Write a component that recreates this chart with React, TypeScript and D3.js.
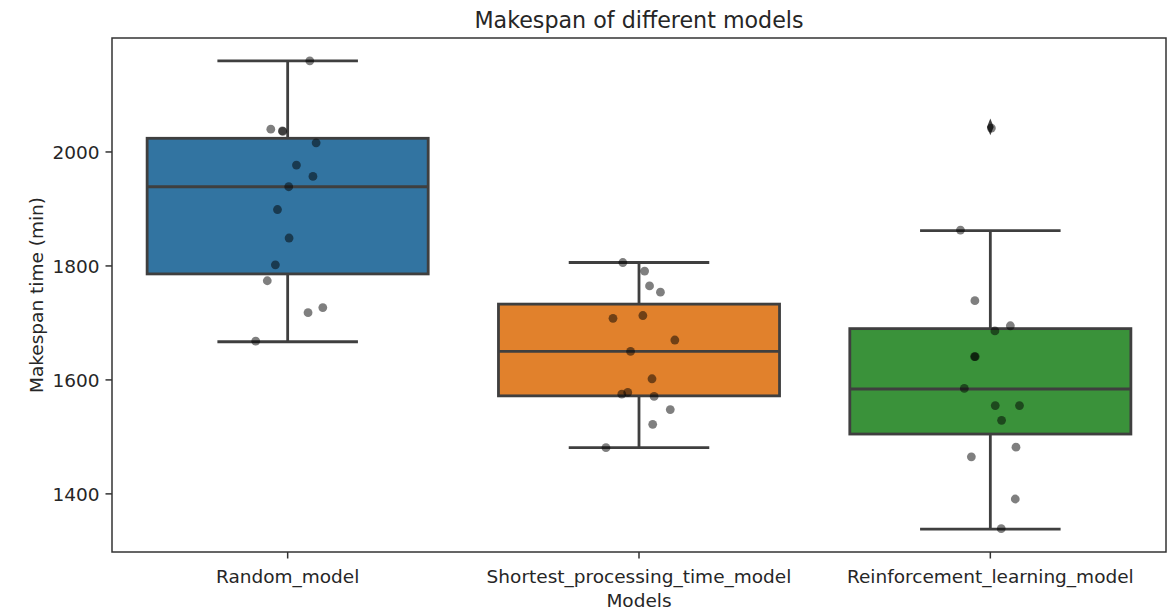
import React from "react";
import * as d3 from "d3";

const categories = ["Random_model", "Shortest_processing_time_model", "Reinforcement_learning_model"];
const boxColors = ["#3274a1", "#e1812c", "#3a923a"];

// box statistics: [whiskerLow, q1, median, q3, whiskerHigh]
const randomStats = [1667, 1786, 1939, 2024, 2160];
const sptStats = [1481, 1572, 1650, 1733, 1806];
const rlStats = [1338, 1505, 1584, 1690, 1862];
const boxStats = [randomStats, sptStats, rlStats];

// outliers (flier markers)
const randomOutliers: number[] = [];
const sptOutliers: number[] = [];
const rlOutliers = [2044];
const outliers = [randomOutliers, sptOutliers, rlOutliers];

// strip points: values and jitter (category units)
const randomValues = [2160, 2040, 2037, 2036, 2016, 1977, 1957, 1939, 1899, 1849, 1802, 1774, 1718, 1727, 1668];
const randomJitter = [0.063, -0.048, -0.015, -0.014, 0.081, 0.025, 0.072, 0.003, -0.029, 0.004, -0.035, -0.058, 0.058, 0.1, -0.091];
const sptValues = [1806, 1791, 1765, 1754, 1708, 1713, 1670, 1650, 1602, 1575, 1578, 1571, 1548, 1522, 1481];
const sptJitter = [-0.046, 0.016, 0.03, 0.061, -0.074, 0.011, 0.102, -0.024, 0.037, -0.049, -0.032, 0.043, 0.089, 0.039, -0.094];
const rlValues = [2042, 1863, 1739, 1695, 1686, 1641, 1641, 1585, 1555, 1555, 1529, 1482, 1465, 1391, 1339];
const rlJitter = [0.003, -0.085, -0.044, 0.057, 0.013, -0.045, -0.043, -0.074, 0.014, 0.083, 0.032, 0.073, -0.054, 0.071, 0.031];
const stripValues = [randomValues, sptValues, rlValues];
const stripJitter = [randomJitter, sptJitter, rlJitter];

const yTicks = [1400, 1600, 1800, 2000];

const W = 1173;
const H = 610;
const M = { left: 112, right: 7, top: 38, bottom: 58 };
const FONT = "DejaVu Sans, sans-serif";
const LINE = "#3f3f3f";
const TXT = "#262626";
const FS = 18.5;

export default function App() {
  const x = d3.scaleBand<string>().domain(categories).range([M.left, W - M.right]).paddingInner(0).paddingOuter(0);
  const y = d3.scaleLinear().domain([1298, 2200]).range([H - M.bottom, M.top]);
  const bw = x.bandwidth();
  const boxW = bw * 0.8;
  const capW = boxW / 2;
  const lw = 2.8;

  return (
    <svg width={W} height={H} style={{ position: "absolute", left: 0, top: 0, background: "#fff" }} fontFamily={FONT}>
      <rect x={0} y={0} width={W} height={H} fill="#fff" />
      {/* title */}
      <text x={(M.left + W - M.right) / 2} y={27.5} textAnchor="middle" fontSize={22.2} fill={TXT}>
        Makespan of different models
      </text>
      {/* boxes */}
      {categories.map((c, i) => {
        const cx = x(c)! + bw / 2;
        const [lo, q1, med, q3, hi] = boxStats[i];
        return (
          <g key={c}>
            <line x1={cx} x2={cx} y1={y(q3)} y2={y(hi)} stroke={LINE} strokeWidth={lw} />
            <line x1={cx} x2={cx} y1={y(q1)} y2={y(lo)} stroke={LINE} strokeWidth={lw} />
            <line x1={cx - capW / 2} x2={cx + capW / 2} y1={y(hi)} y2={y(hi)} stroke={LINE} strokeWidth={lw} />
            <line x1={cx - capW / 2} x2={cx + capW / 2} y1={y(lo)} y2={y(lo)} stroke={LINE} strokeWidth={lw} />
            <rect x={cx - boxW / 2} y={y(q3)} width={boxW} height={y(q1) - y(q3)} fill={boxColors[i]} stroke={LINE} strokeWidth={lw} />
            <line x1={cx - boxW / 2} x2={cx + boxW / 2} y1={y(med)} y2={y(med)} stroke={LINE} strokeWidth={lw} />
            {outliers[i].map((v, k) => (
              <path key={k} d={d3.symbol(d3.symbolDiamond, 80)()!} transform={`translate(${cx},${y(v)}) scale(0.7,1)`} fill={LINE} />
            ))}
          </g>
        );
      })}
      {/* strip points */}
      {categories.map((c, i) => {
        const cx = x(c)! + bw / 2;
        return (
          <g key={"s" + c}>
            {stripValues[i].map((v, k) => (
              <circle key={k} cx={cx + stripJitter[i][k] * bw} cy={y(v)} r={4.4} fill="#000" fillOpacity={0.5} />
            ))}
          </g>
        );
      })}
      {/* frame */}
      <rect x={M.left} y={M.top} width={W - M.right - M.left} height={H - M.bottom - M.top} fill="none" stroke="#333" strokeWidth={1.5} />
      {/* y ticks */}
      {yTicks.map((t) => (
        <g key={t}>
          <line x1={M.left - 6.5} x2={M.left} y1={y(t)} y2={y(t)} stroke="#333" strokeWidth={1.5} />
          <text x={M.left - 12.5} y={y(t)} dy="0.36em" textAnchor="end" fontSize={FS} fill={TXT}>
            {t}
          </text>
        </g>
      ))}
      {/* x ticks */}
      {categories.map((c) => {
        const cx = x(c)! + bw / 2;
        return (
          <g key={"t" + c}>
            <line x1={cx} x2={cx} y1={H - M.bottom} y2={H - M.bottom + 6.5} stroke="#333" strokeWidth={1.5} />
            <text x={cx} y={582.5} textAnchor="middle" fontSize={FS} fill={TXT}>
              {c}
            </text>
          </g>
        );
      })}
      <text x={(M.left + W - M.right) / 2} y={607} textAnchor="middle" fontSize={FS} fill={TXT}>
        Models
      </text>
      <text transform={`translate(43,${(M.top + H - M.bottom) / 2}) rotate(-90)`} textAnchor="middle" fontSize={FS} fill={TXT}>
        Makespan time (min)
      </text>
    </svg>
  );
}
